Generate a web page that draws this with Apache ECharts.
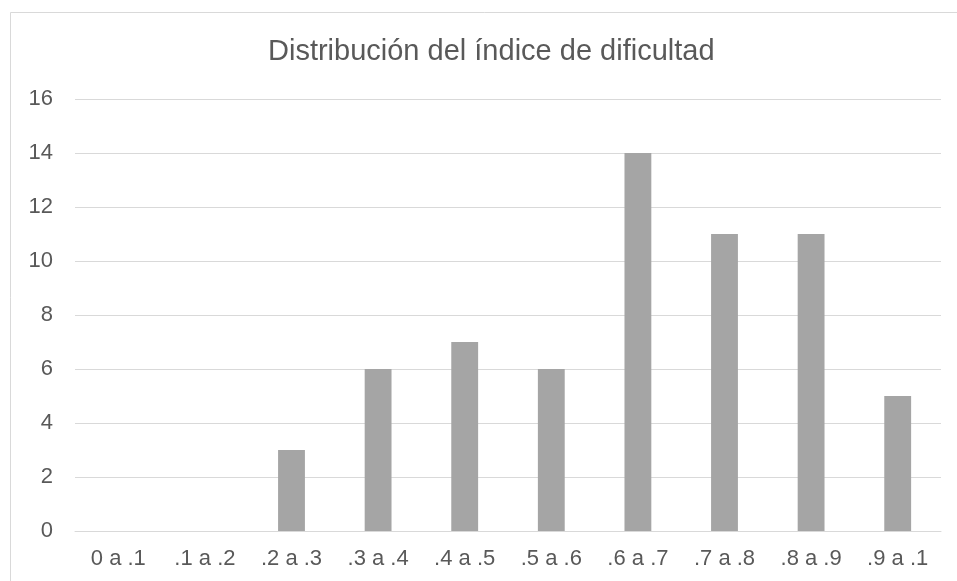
<!DOCTYPE html>
<html>
<head>
<meta charset="utf-8">
<script src="https://cdn.jsdelivr.net/npm/echarts@6/dist/echarts.min.js"></script>
<style>
  html, body { margin: 0; padding: 0; background: #fff; }
  #chart { width: 957px; height: 581px; }
</style>
</head>
<body>
<div id="chart"></div>
<script>
// Histogram of item difficulty index ranges
const chartTitle = 'Distribución del índice de dificultad';
const categories = ['0 a .1', '.1 a .2', '.2 a .3', '.3 a .4', '.4 a .5', '.5 a .6', '.6 a .7', '.7 a .8', '.8 a .9', '.9 a .1'];
const counts = [0, 0, 3, 6, 7, 6, 14, 11, 11, 5];
const yMin = 0;
const yMax = 16;
const yStep = 2;

const FONT = '"Liberation Sans", Arial, sans-serif';
const TEXT = '#595959';

const chart = echarts.init(document.getElementById('chart'), null, { renderer: 'canvas' });
chart.setOption({
  backgroundColor: '#ffffff',
  animation: false,
  title: {
    text: chartTitle,
    left: 268,
    top: 37,
    padding: 0,
    textStyle: { fontFamily: FONT, fontSize: 29, fontWeight: 'normal', color: TEXT }
  },
  graphic: [{
    type: 'rect',
    shape: { x: 10.5, y: 12.5, width: 1200, height: 1200 },
    style: { fill: 'none', stroke: '#d9d9d9', lineWidth: 1 },
    silent: true
  }],
  grid: { left: 75, right: 16, top: 99, bottom: 50, containLabel: false },
  xAxis: {
    type: 'category',
    data: categories,
    axisLine: { show: true, lineStyle: { color: '#d9d9d9', width: 1 } },
    axisTick: { show: false },
    axisLabel: { fontFamily: FONT, fontSize: 22, color: TEXT, margin: 17, interval: 0 }
  },
  yAxis: {
    type: 'value',
    min: yMin,
    max: yMax,
    interval: yStep,
    axisLine: { show: false },
    axisTick: { show: false },
    splitLine: { lineStyle: { color: '#d9d9d9', width: 1 } },
    axisLabel: { fontFamily: FONT, fontSize: 22, color: TEXT, margin: 22 }
  },
  series: [{
    type: 'bar',
    data: counts,
    barWidth: '31%',
    itemStyle: { color: '#a5a5a5' }
  }]
});
</script>
</body>
</html>
